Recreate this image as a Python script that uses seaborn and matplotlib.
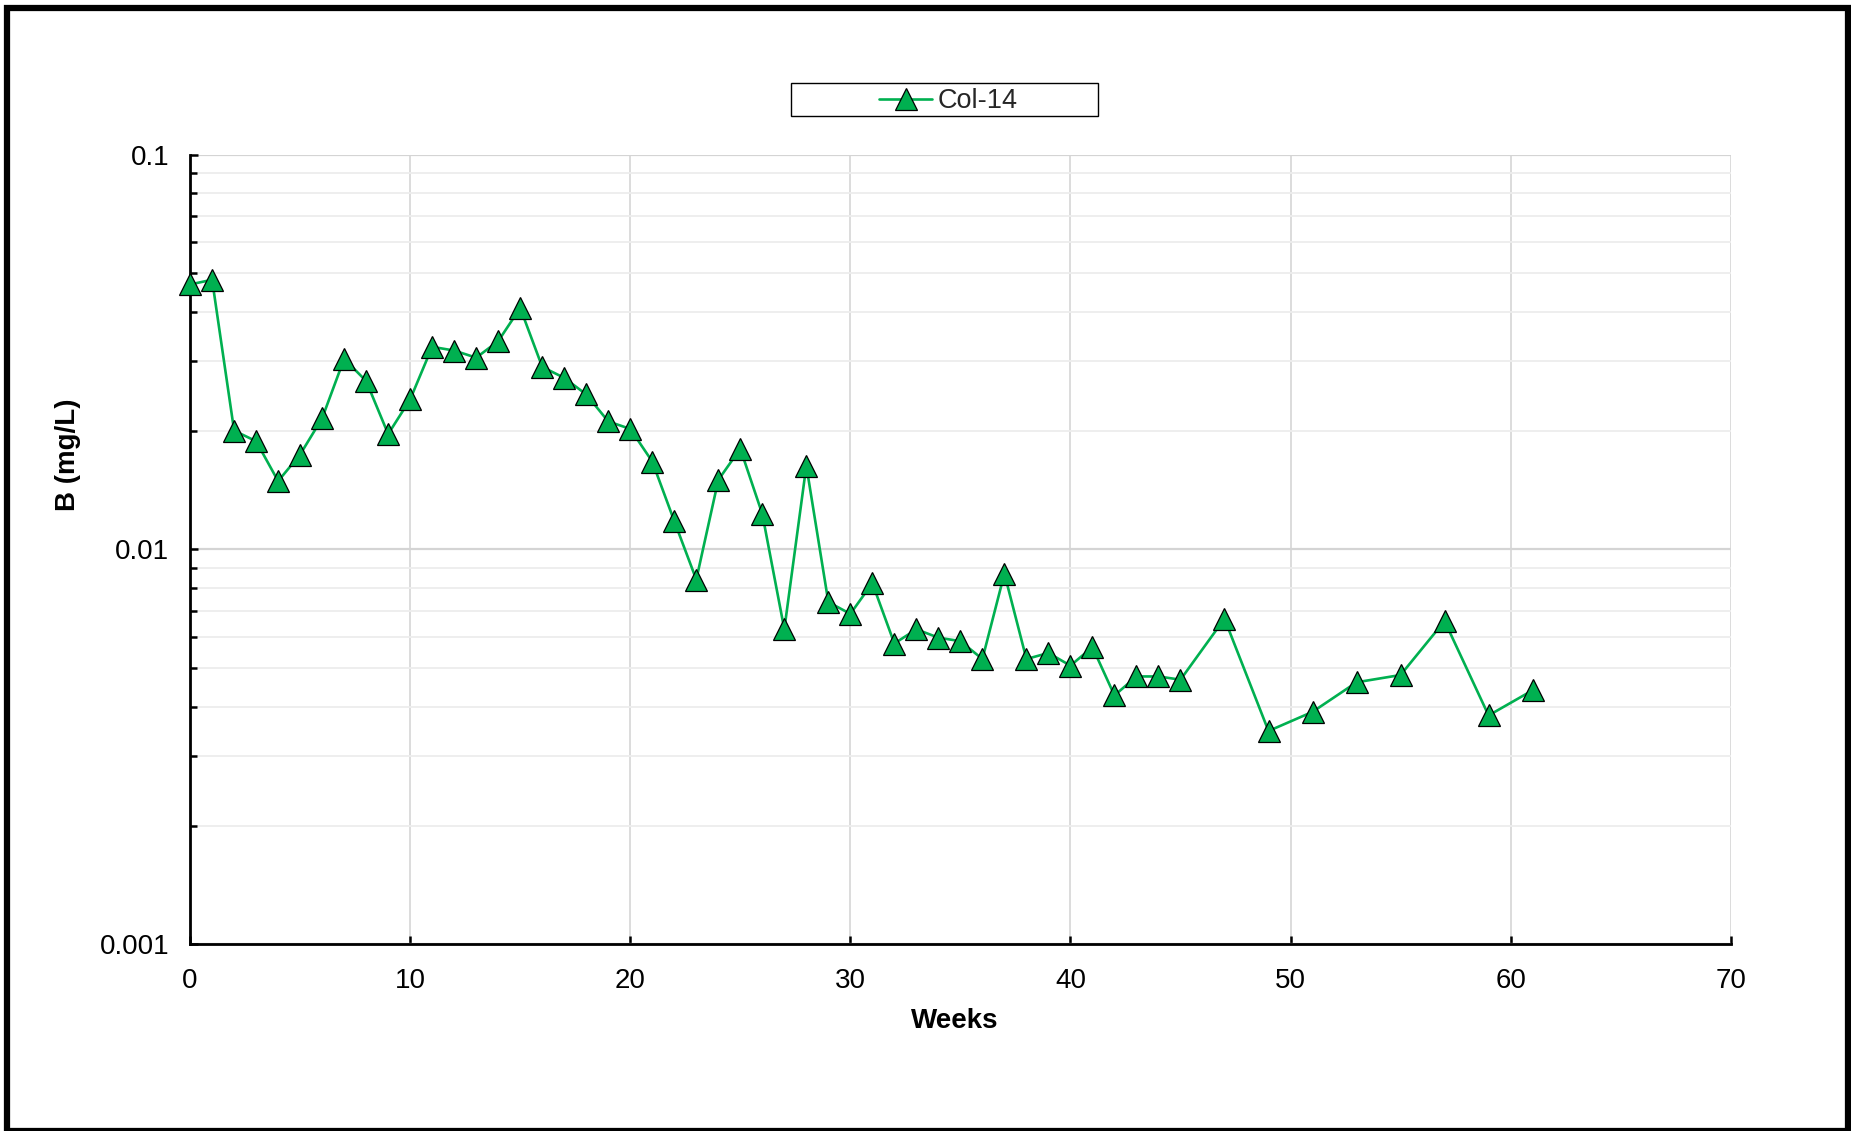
import numpy as np
import pandas as pd
import matplotlib
matplotlib.use("Agg")
import matplotlib.pyplot as plt
import matplotlib.ticker as mticker
from matplotlib.patches import Rectangle
import seaborn as sns

# ---- data ----
weeks = [0, 1, 2, 3, 4, 5, 6, 7, 8, 9, 10, 11, 12, 13, 14, 15, 16, 17, 18, 19,
         20, 21, 22, 23, 24, 25, 26, 27, 28, 29, 30, 31, 32, 33, 34, 35, 36, 37,
         38, 39, 40, 41, 42, 43, 44, 45, 47, 49, 51, 53, 55, 57, 59, 61]
boron = [0.0469, 0.0482, 0.0200, 0.0188, 0.0149, 0.0174, 0.0215, 0.0304, 0.0267,
         0.0196, 0.0240, 0.0326, 0.0319, 0.0306, 0.0337, 0.0409, 0.0290, 0.0272,
         0.0247, 0.0211, 0.0202, 0.0167, 0.0118, 0.00839, 0.0150, 0.0180, 0.0123,
         0.00628, 0.0163, 0.00736, 0.00687, 0.00822, 0.00578, 0.00628, 0.00598,
         0.00586, 0.00528, 0.00869, 0.00528, 0.00547, 0.00508, 0.00566, 0.00427,
         0.00477, 0.00477, 0.00468, 0.00668, 0.00347, 0.00388, 0.00461, 0.00481,
         0.00659, 0.00380, 0.00440]
series_name = "Col-14"
x_ticks = [0, 10, 20, 30, 40, 50, 60, 70]
y_ticks = [0.001, 0.01, 0.1]

df = pd.DataFrame({"Weeks": weeks, "B": boron})

sns.set_theme(style="white")
plt.rcParams["font.family"] = ["Liberation Sans", "DejaVu Sans"]

fig = plt.figure(figsize=(18.51, 11.31), dpi=100)
ax = fig.add_axes([0.1027, 0.165, 0.935 - 0.1027, 0.8633 - 0.165])

green = "#00B050"
sns.lineplot(data=df, x="Weeks", y="B", ax=ax, color=green, linewidth=1.9,
             marker="^", markersize=16.5, markeredgecolor="black",
             markerfacecolor=green, markeredgewidth=0.9, label=series_name,
             legend=False, zorder=5, clip_on=False)

ax.set_yscale("log")
ax.set_xlim(0, 70)
ax.set_ylim(0.001, 0.1)
ax.set_xticks(x_ticks)
ax.set_yticks(y_ticks)
ax.yaxis.set_minor_locator(mticker.LogLocator(base=10, subs=np.arange(2, 10)))
ax.yaxis.set_minor_formatter(mticker.NullFormatter())
ax.yaxis.set_major_formatter(mticker.FuncFormatter(lambda v, p: f"{v:g}"))

# grid
ax.grid(False)
ax.xaxis.grid(True, which="major", color="#D9D9D9", linewidth=1.3)
ax.yaxis.grid(True, which="major", color="#D4D4D4", linewidth=1.6)
ax.yaxis.grid(True, which="minor", color="#EDEDED", linewidth=1.3)
ax.set_axisbelow(True)

for s in ["top", "right"]:
    ax.spines[s].set_visible(False)
for s in ["left", "bottom"]:
    ax.spines[s].set_color("black")
    ax.spines[s].set_linewidth(2.0)

ax.tick_params(axis="both", which="both", direction="in", colors="black",
               labelsize=20, width=1.8)
ax.tick_params(axis="y", which="major", length=6, pad=15, left=True)
ax.tick_params(axis="y", which="minor", length=5, left=True)
ax.tick_params(axis="x", which="major", length=6, pad=17, bottom=True)

ax.set_xlabel("Weeks", fontsize=20, fontweight="bold", color="black")
ax.set_ylabel("B (mg/L)", fontsize=20, fontweight="bold", color="black")
ax.xaxis.set_label_coords(0.496, -0.081)
ax.yaxis.set_label_coords(-0.071, 0.62)

# legend (frameless, with separate box)
h, l = ax.get_legend_handles_labels()
fig.legend(h, l, loc="center", bbox_to_anchor=(0.5124, 0.9105),
           frameon=False, fontsize=19.5, handlelength=1.95, handletextpad=0.2,
           borderpad=0, numpoints=1)
fig.patches.append(Rectangle((0.4273, 0.8977), 0.1659, 0.0292,
                             transform=fig.transFigure, fill=False,
                             edgecolor="black", linewidth=1.0))

# outer figure frame
fig.patches.append(Rectangle((6.5 / 1851, 0.0 / 1131), (1847.5 - 6.5) / 1851,
                             (1131 - 7.5) / 1131, transform=fig.transFigure,
                             fill=False, edgecolor="black", linewidth=4.5))

fig.savefig("out.png", dpi=100)
